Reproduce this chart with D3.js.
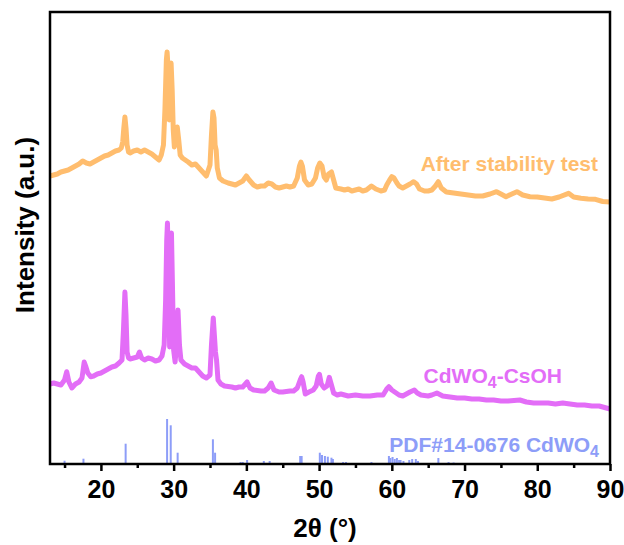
<!DOCTYPE html>
<html><head><meta charset="utf-8">
<script src="https://cdn.jsdelivr.net/npm/d3@7"></script>
<style>
html,body{margin:0;padding:0;background:#fff;}
svg{display:block;font-family:"Liberation Sans",Arial,sans-serif;font-weight:bold;}
</style></head>
<body><svg id="c" width="624" height="545"></svg>
<script>
// ---- data (intensity in arbitrary units) ----
const afterTheta = [13,13.5,14,14.5,15,15.5,16,16.5,17,17.5,18,18.5,19,19.5,20,20.5,21,21.5,22,22.5,22.8,23,23.15,23.3,23.45,23.6,23.8,24,24.5,25,25.5,26,26.5,27,27.5,28,28.3,28.6,28.8,29,29.1,29.25,29.4,29.5,29.65,29.8,29.95,30.1,30.3,30.5,30.7,30.9,31.2,31.6,32,32.5,33,33.5,34,34.5,35,35.2,35.4,35.55,35.7,35.85,36,36.3,36.8,37.5,38,38.5,39,39.5,40,40.4,41,41.5,42,42.5,43,43.5,44,44.5,45,45.5,46,46.5,47,47.3,47.5,47.7,48,48.5,49,49.5,49.8,50.1,50.4,50.7,51,51.3,51.7,52,52.3,53,53.5,54,54.5,55,55.5,56,56.5,57.2,57.8,58.5,59,59.3,59.7,60,60.3,60.7,61,61.5,62,62.5,63,63.4,63.8,64.5,65,65.5,66,66.4,66.8,67.5,68.5,69.5,70.5,71.5,72.5,73.5,74.4,75,75.7,76.5,77.2,78,79,80,81,82,83,84.3,85,86,87,88,89,90];
const afterPx = [176,175,174,172,171,170,168,166,164,161,163,164,162,160,158,156,155,153,151,150,148,142,128,117,128,145,152,153,151,150,152,150,152,154,157,160,155,145,110,60,52,70,120,95,63,90,130,147,135,127,140,155,158,160,162,165,164,168,172,176,165,135,112,118,145,150,168,178,181,183,184,185,183,181,176,180,185,187,186,186,183,184,187,188,187,186,187,186,178,166,162,166,180,185,184,178,168,163,166,177,180,174,172,180,188,189,190,189,191,190,189,191,190,186,189,191,190,185,180,176.7,178,183,186,188,186,184,181.7,184,189,191,191,190,186,181.7,188,192,193,194,195,196,196,194,191.7,194,196.7,194,191.7,195,196.7,197,198,199,197,193.3,197,198.3,199,199.3,201.5,202];
const afterIntensity = afterPx.map(p => 464 - p);

const csohTheta = [13,13.5,14,14.5,15,15.3,15.6,16,16.5,17,17.4,17.7,17.9,18.2,18.6,19,19.5,20,20.5,21,21.5,22,22.5,22.9,23.1,23.3,23.45,23.6,23.8,24,24.5,25,25.3,25.6,26,26.5,27,27.5,28,28.4,28.7,28.9,29.05,29.15,29.3,29.45,29.55,29.7,29.85,30,30.2,30.4,30.6,30.8,31,31.5,32,32.5,33,33.5,34,34.5,35,35.2,35.45,35.6,35.75,35.9,36.1,36.5,37,38,38.5,39,39.5,40.1,40.5,41,42,42.5,43,43.4,43.8,44.5,45,46,46.5,47,47.4,47.6,47.8,48.1,48.6,49.2,49.6,49.9,50.05,50.3,50.7,51.1,51.4,51.7,52,52.5,53,53.5,54,55,56,57,58,58.8,59.3,59.6,60,60.4,61,61.5,62,62.5,63.1,63.5,64,65,65.5,66.2,67,68,69,70,71,72,73,74,75,76,77.6,78.5,79.5,80.5,81.5,82.5,83.5,84.5,85.5,86.5,87.5,88.5,89.5,90];
const csohPx = [384,383,384,385,380,371.7,382,388,384,382,378,362,366,373,376.7,376,374,373,371,369,367,366,363,360,330,292,315,352,358,359,358,357,352,358,360,358,359,361,360,356,345,300,240,223,280,347,280,233,290,350,362,345,310,345,360,364,366,368,368,372,376,378,375,345,318,335,352,360,380,384,386,387,388,387,387,382,388,390,391,391,388,383,390,392,392,391,391,388,380,376.7,382,394,392,390,386,376,374.3,384,388,386,377.3,385,393,395,394,395,396,395,396,396,395,395,389,386.7,390,392,395,396,394,392,390,393,395,396,395,393,396,397,398,398,399,399,400,400,401,401,400,402,403,403,403,404,403,404,405,405,406,406,408,409];
const csohIntensity = csohPx.map(p => 464 - p);

const pdfTheta = [15.0,17.6,23.4,29.1,29.6,30.55,35.4,35.7,39.2,39.5,40.1,42.4,43.2,47.4,47.6,50.1,50.4,50.8,51.2,51.7,51.9,53.3,53.7,57.2,59.6,59.8,60.1,60.4,60.7,61.0,61.2,61.6,62.4,62.8,63.3,63.6,66.4,67.8,68.5];
const pdfIntensity = [3.3,5.3,20.3,45,38.7,11.3,24.7,11.3,2,2,4,3,3,8,8,11.3,9,8,7.3,6.3,5,2,2,2,8,6,7,5,6,4,4,3,4,5,5,3,6,2,1.5];

const majorTicks = [20,30,40,50,60,70,80,90];
const minorTicks = [15,25,35,45,55,65,75,85];

const labels = {
  after: "After stability test",
  csoh: ["CdWO", "4", "-CsOH"],
  pdf: ["PDF#14-0676 CdWO", "4"],
  xTitle: "2θ (°)",
  yTitle: "Intensity (a.u.)"
};

// ---- layout ----
const L = 50, R = 610, T = 12, B = 464;
const svg = d3.select("#c");
const x = d3.scaleLinear().domain([13, 90]).range([L, R]);
const y = d3.scaleLinear().domain([0, 452]).range([B, T]);

const cOrange = "#FFBD6E", cPurple = "#E36DF7", cBlue = "#8D9DF8";

// PDF sticks
svg.append("g").selectAll("line").data(pdfTheta).join("line")
  .attr("x1", d => x(d)).attr("x2", d => x(d))
  .attr("y1", y(0)).attr("y2", (d, i) => y(pdfIntensity[i]))
  .attr("stroke", cBlue).attr("stroke-width", 2);

const line = d3.line().x(d => x(d[0])).y(d => y(d[1]));
svg.append("path").datum(afterTheta.map((t, i) => [t, afterIntensity[i]]))
  .attr("d", line).attr("fill", "none").attr("stroke", cOrange)
  .attr("stroke-width", 5).attr("stroke-linejoin", "round");
svg.append("path").datum(csohTheta.map((t, i) => [t, csohIntensity[i]]))
  .attr("d", line).attr("fill", "none").attr("stroke", cPurple)
  .attr("stroke-width", 5).attr("stroke-linejoin", "round");

// frame
svg.append("rect").attr("x", L).attr("y", T).attr("width", R - L).attr("height", B - T)
  .attr("fill", "none").attr("stroke", "#000").attr("stroke-width", 2.5);

// x axis
const ax = svg.append("g").attr("transform", `translate(0,${B})`)
  .call(d3.axisBottom(x).tickValues(majorTicks).tickSize(7).tickPadding(9).tickFormat(d3.format("d")));
ax.select(".domain").remove();
ax.selectAll(".tick line").attr("stroke-width", 2.5);
ax.selectAll(".tick text").attr("font-size", 25).attr("font-weight", "bold")
  .attr("font-family", '"Liberation Sans",Arial,sans-serif').attr("fill", "#000");
const axm = svg.append("g").attr("transform", `translate(0,${B})`)
  .call(d3.axisBottom(x).tickValues(minorTicks).tickSize(4).tickFormat(""));
axm.select(".domain").remove();
axm.selectAll(".tick line").attr("stroke-width", 2.5);

// titles
svg.append("text").attr("x", (L + R) / 2 - 5).attr("y", 537).attr("text-anchor", "middle")
  .attr("font-size", 26).text(labels.xTitle);
svg.append("text").attr("transform", "translate(34,225) rotate(-90)").attr("text-anchor", "middle")
  .attr("font-size", 26).text(labels.yTitle);

// series labels
svg.append("text").attr("x", 598).attr("y", 171).attr("text-anchor", "end")
  .attr("font-size", 21).attr("fill", cOrange).text(labels.after);
const t2 = svg.append("text").attr("x", 562).attr("y", 383).attr("text-anchor", "end")
  .attr("font-size", 21).attr("fill", cPurple);
t2.append("tspan").text(labels.csoh[0]);
t2.append("tspan").attr("dy", 5).attr("font-size", 16).text(labels.csoh[1]);
t2.append("tspan").attr("dy", -5).text(labels.csoh[2]);
const t3 = svg.append("text").attr("x", 599).attr("y", 452).attr("text-anchor", "end")
  .attr("font-size", 21).attr("fill", cBlue);
t3.append("tspan").text(labels.pdf[0]);
t3.append("tspan").attr("dy", 5).attr("font-size", 16).text(labels.pdf[1]);
</script></body></html>
